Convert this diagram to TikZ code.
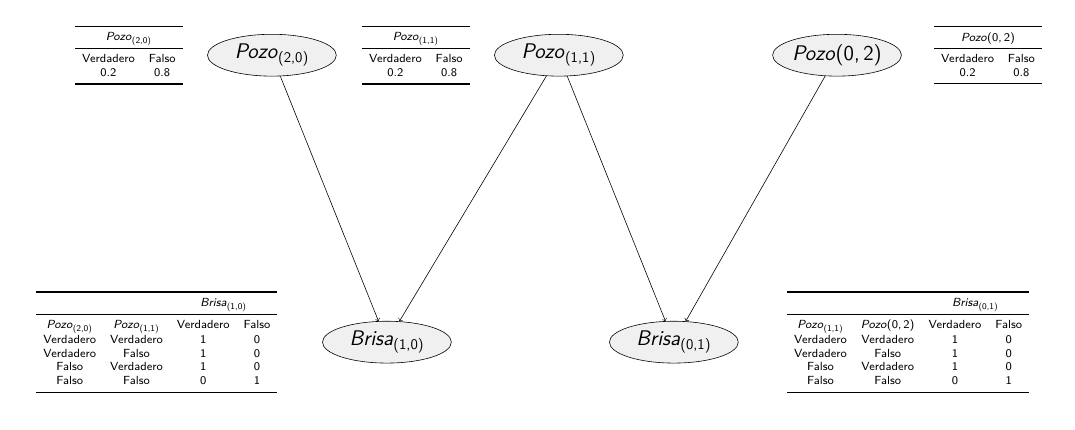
\documentclass[tikz,border=0pt]{standalone}
\usepackage{booktabs}
\usetikzlibrary{arrows,positioning,shapes.geometric}
\renewcommand{\familydefault}{\sfdefault}
\newcommand{\pozo}[1]{\textit{Pozo}\textsubscript{(#1)}}
\newcommand{\brisa}[1]{\textit{Brisa}\textsubscript{(#1)}}
\setlength{\tabcolsep}{4.75pt}

\begin{document}
\begin{tikzpicture}
				% The network: every node keeps the same ellipse, so put it in a style
				\tikzset{node distance=6.86cm, % distance between the centres of two nodes
					var/.style={draw,ellipse,fill=gray!12,minimum width=3.08cm,minimum height=1cm,inner sep=0pt,font=\Large},
					cpt/.style={inner sep=0pt,font=\footnotesize},
				}
				\useasboundingbox (0,0) rectangle (25.70,-10.26);
				\node[var] (p20) at (6.50,-1.32) {\pozo{2,0}};
				\node[var,right of=p20] (p11) {\pozo{1,1}};
				\node[var,right of=p11,node distance=6.65cm] (p02) {\textit{Pozo}(0,\,2)};
				% The two children sit on the lower row.
				\node[var,below of=p20,xshift=2.75cm] (b10) {\brisa{1,0}};
				\node[var,right of=b10] (b01) {\brisa{0,1}};
				% Probability tables next to each node.
				\node[cpt,left of=p20,node distance=3.42cm] (tp20) {\begin{tabular}{cc}
						\toprule
						\multicolumn{2}{c}{\pozo{2,0}}\\
						\midrule
						Verdadero & Falso\\
						0.2 & 0.8\\
						\bottomrule
					\end{tabular}};
				\node[cpt,left of=p11,node distance=3.42cm] (tp11) {\begin{tabular}{cc}
						\toprule
						\multicolumn{2}{c}{\pozo{1,1}}\\
						\midrule
						Verdadero & Falso\\
						0.2 & 0.8\\
						\bottomrule
					\end{tabular}};
				\node[cpt,right of=p02,node distance=3.61cm] (tp02) {\begin{tabular}{cc}
						\toprule
						\multicolumn{2}{c}{\textit{Pozo}(0,\,2)}\\
						\midrule
						Verdadero & Falso\\
						0.2 & 0.8\\
						\bottomrule
					\end{tabular}};
				\node[cpt,left of=b10,node distance=5.5cm] (tb10) {\begin{tabular}{cccc}
						\toprule
						& & \multicolumn{2}{c}{\brisa{1,0}}\\
						\midrule
						\pozo{2,0} & \pozo{1,1} & Verdadero & Falso\\
						Verdadero & Verdadero & 1 & 0\\
						Verdadero & Falso & 1 & 0\\
						Falso & Verdadero & 1 & 0\\
						Falso & Falso & 0 & 1\\
						\bottomrule
					\end{tabular}};
				\node[cpt,right of=b01,node distance=5.6cm] (tb01) {\begin{tabular}{cccc}
						\toprule
						& & \multicolumn{2}{c}{\brisa{0,1}}\\
						\midrule
						\pozo{1,1} & \textit{Pozo}(0,\,2) & Verdadero & Falso\\
						Verdadero & Verdadero & 1 & 0\\
						Verdadero & Falso & 1 & 0\\
						Falso & Verdadero & 1 & 0\\
						Falso & Falso & 0 & 1\\
						\bottomrule
					\end{tabular}};
				% Each parent points to the breeze it causes.
				\draw (p20) edge[->] (b10);
				\draw (p11) edge[->] (b10);
				\draw (p11) edge[->] (b01);
				\draw (p02) edge[->] (b01);
			\end{tikzpicture}
\end{document}
